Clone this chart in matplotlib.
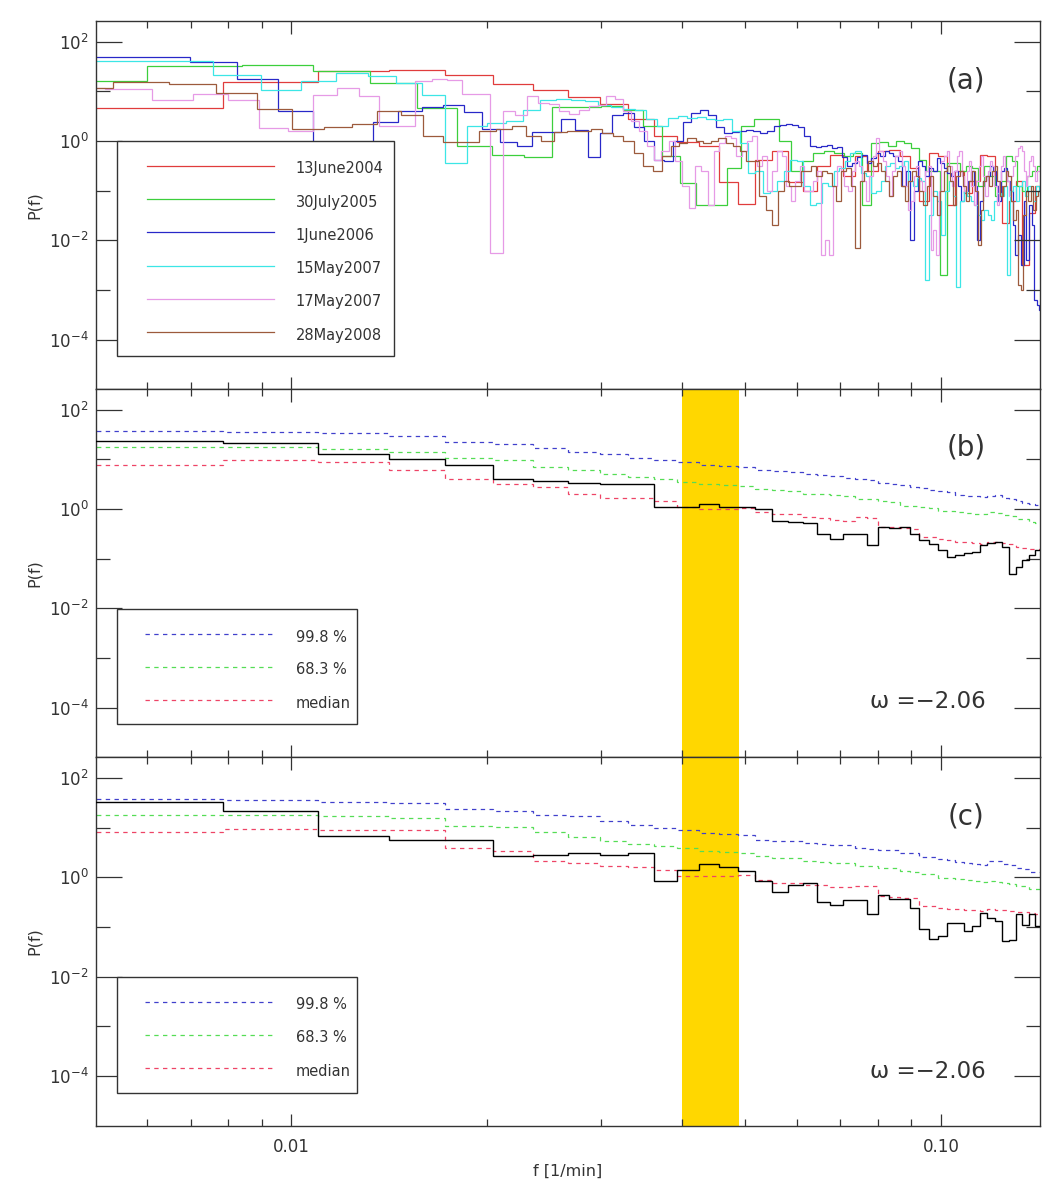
import numpy as np
import matplotlib.pyplot as plt
from matplotlib.lines import Line2D
from matplotlib.patches import Rectangle
from matplotlib.ticker import FixedLocator, NullFormatter, FuncFormatter

# ---- panel (a): log10 P(f) for each day, one value per frequency bin ----
# bin k covers (k-0.5)*df .. (k+0.5)*df
red_df, red_k0 = 0.00314, 2
red_logp = [0.66, 1.18, 1.40, 1.42, 1.33, 1.14, 1.03, 0.89, 0.75, 0.45, 0.10, -0.02, -0.10,
            -0.82, -1.27, -0.38, -0.21, -0.82, -1.00, -0.50, -0.28, -0.70, -0.30, -0.60, -0.20,
            -0.18, -0.30, -0.55, -1.20, -0.25, -0.30, -1.30, -0.60, -1.05, -0.80, -0.28, -0.30,
            -0.90, -1.65, -1.20, -0.80, -2.50, -1.45, -0.90]

green_df, green_k0 = 0.0024, 2
green_logp = [1.21, 1.50, 1.52, 1.40, 1.16, 0.66, -0.10, -0.28, -0.32, 0.68, 0.68, 0.70, 0.62,
              0.30, -0.30, -0.85, -1.30, -1.30, -0.55, 0.30, 0.44, 0.44, 0.00, -0.60, -0.40,
              -0.25, -0.20, -0.25, -0.30, -0.25, -1.30, -0.05, -0.02, -0.10, 0.00, -0.05, -0.15,
              -0.38, -0.60, -0.60, -2.70, -0.45, -0.45, -0.60, -0.50, -0.55, -0.90, -0.50, -0.70,
              -1.10, -0.80, -0.30, -0.40, -0.90, -1.00, -0.70, -0.60, -0.50]

blue_df, blue_k0 = 0.00127, 4
blue_logp = [1.69, 1.69, 1.59, 1.24, 0.61, -0.50, -0.70, 0.39, 0.61, 0.69, 0.72, 0.59, 0.25,
             -0.03, -0.11, 0.17, 0.17, 0.44, 0.22, -0.32, 0.15, 0.52, 0.57, 0.29, 0.00, -0.38,
             -0.40, 0.00, 0.39, 0.56, 0.62, 0.52, 0.29, 0.15, 0.18, 0.20, 0.22, 0.20, 0.15, 0.20,
             0.30, 0.32, 0.34, 0.33, 0.29, 0.10, -0.10, -0.12, -0.10, -0.08, -0.15, -0.12, -0.32,
             -0.50, -0.45, -0.32, -0.28, -0.45, -0.35, -0.25, -0.30, -0.20, -0.25, -0.30, -0.40,
             -0.90, -0.60, -2.00, -1.00, -0.40, -0.50, -0.70, -0.55, -0.60, -0.35, -0.45, -0.55,
             -0.65, -0.70, -0.60, -0.90, -1.20, -1.00, -0.80, -0.60, -0.90, -2.00, -1.20, -0.80,
             -0.70, -0.50, -0.60, -0.90, -1.20, -0.60, -0.55, -0.80, -1.00, -1.70, -2.30, -1.90,
             -2.50, -1.20, -2.40, -1.30, -1.70, -3.20, -3.30, -3.40]

cyan_df, cyan_k0 = 0.00138, 4
cyan_logp = [1.61, 1.61, 1.33, 1.03, 1.21, 1.37, 1.30, 1.16, 0.93, -0.44, 0.30, 0.36, 0.40, 0.62,
             0.82, 0.85, 0.83, 0.80, 0.72, 0.68, 0.65, 0.62, 0.45, 0.30, 0.46, 0.50, 0.46, 0.48,
             0.45, 0.43, 0.44, 0.20, -0.05, -0.65, -0.60, -1.05, -1.00, -0.80, -0.60, -0.38,
             -0.40, -0.90, -1.30, -1.25, -0.85, -0.90, -0.60, -0.55, -0.40, -0.25, -0.20, -0.65,
             -0.70, -1.05, -1.00, -0.80, -0.50, -0.45, -0.55, -0.50, -0.40, -0.80, -0.90, -0.75,
             -0.80, -2.80, -1.50, -1.00, -1.20, -1.90, -1.00, -0.80, -1.10, -2.95, -1.20, -1.00,
             -1.10, -1.20, -1.30, -1.50, -1.60, -1.40, -1.50, -1.60, -1.20, -1.05, -1.10, -0.90,
             -2.70, -1.00, -0.90, -1.20, -0.90, -0.80, -1.10, -0.90, -1.00, -1.20, -0.90, -1.00]

pink_df, pink_k0 = 0.00094, 5
pink_logp = [1.06, 1.04, 0.83, 0.94, 0.83, 0.27, 0.20, 0.93, 1.06, 0.90, 0.30, 0.30, 1.20, 1.25,
             1.22, 0.95, 0.95, -2.25, 0.60, 0.52, 0.90, 0.76, 0.75, 0.60, 0.55, 0.62, 0.70, 0.72,
             0.90, 0.85, 0.60, 0.40, 0.20, -0.10, -0.38, -0.20, 0.00, -0.40, -0.90, -1.35, -0.50,
             -0.60, -1.30, -0.20, -0.05, 0.10, 0.05, -0.30, -0.20, 0.00, 0.10, -0.50, -0.30,
             -1.00, -0.60, -0.20, -0.30, -0.90, -1.20, -0.80, -0.50, -1.00, -1.00, -0.80, -0.60,
             -2.30, -2.00, -2.30, -0.90, -0.50, -0.60, -0.90, -1.00, -0.60, -0.40, -0.50, -0.80,
             -1.20, -0.70, -0.30, 0.05, -0.20, -0.40, -0.70, -1.10, -0.60, -0.30, -0.20, -0.50,
             -0.90, -1.40, -1.20, -0.70, -0.50, -0.80, -1.00, -0.60, -0.50, -2.20, -1.80, -2.30,
             -1.00, -0.40, -0.30, -0.20, -0.50, -0.90, -0.60, -0.30, -0.20, -0.70, -1.00, -0.60,
             -0.40, -0.90, -1.30, -0.80, -0.50, -0.30, -0.70, -1.10, -0.60, -0.40, -0.50, -0.90,
             -1.30, -0.80, -0.50, -0.30, -0.60, -0.80, -1.10, -0.70, -0.50, -0.30, -0.15, -0.10,
             -0.20, -0.60, -0.90, -0.70, -0.40, -0.30, -0.50, -0.80, -0.60, -0.60]

brown_df, brown_k0 = 0.00118, 4
brown_logp = [1.06, 1.18, 1.15, 0.97, 0.64, 0.24, 0.28, 0.34, 0.60, 0.52, 0.10, -0.03, -0.03,
              0.20, 0.25, 0.30, 0.10, 0.00, 0.17, 0.20, 0.20, 0.25, 0.15, 0.10, 0.00, -0.25,
              -0.50, -0.60, -0.30, -0.10, -0.05, 0.05, 0.00, -0.05, 0.00, 0.05, -0.05, -0.10,
              -0.20, -0.40, -0.40, -1.10, -1.40, -1.70, -1.00, -0.80, -0.90, -0.90, -0.60, -0.60,
              -0.50, -0.70, -0.60, -0.65, -0.90, -1.20, -0.60, -0.55, -0.90, -2.15, -0.80, -0.60,
              -0.40, -0.50, -0.45, -0.60, -0.80, -1.10, -0.70, -0.60, -0.90, -1.20, -0.80, -0.60,
              -0.70, -1.00, -1.30, -0.90, -0.70, -1.10, -1.50, -1.00, -0.60, -0.50, -0.80, -1.30,
              -0.70, -0.60, -0.90, -1.20, -0.80, -0.60, -1.00, -2.10, -1.40, -0.80, -0.70, -0.90,
              -0.60, -0.50, -0.80, -1.10, -0.90, -0.60, -0.70, -1.20, -1.60, -1.40, -2.90, -3.00,
              -1.50, -1.00, -1.20, -0.90, -1.40, -1.10, -1.00]

days = ['13June2004', '30July2005', '1June2006', '15May2007', '17May2007', '28May2008']

# ---- panels (b) and (c): common grid, spectrum and confidence levels ----
avg_df, avg_k0 = 0.00314, 2
b_black = [1.37, 1.34, 1.12, 1.01, 0.89, 0.61, 0.57, 0.53, 0.51, 0.51, 0.04, 0.04, 0.11, 0.05,
           0.04, 0.00, -0.23, -0.26, -0.28, -0.50, -0.60, -0.51, -0.50, -0.73, -0.36, -0.38,
           -0.36, -0.50, -0.63, -0.70, -0.83, -0.97, -0.93, -0.89, -0.87, -0.73, -0.68, -0.66,
           -0.77, -1.30, -1.17, -1.03, -0.93, -0.83]
b_p998 = [1.58, 1.55, 1.53, 1.47, 1.36, 1.32, 1.23, 1.15, 1.10, 1.03, 0.99, 0.95, 0.88, 0.87,
          0.84, 0.78, 0.76, 0.75, 0.71, 0.69, 0.66, 0.63, 0.61, 0.58, 0.52, 0.51, 0.49, 0.44,
          0.42, 0.39, 0.36, 0.34, 0.29, 0.27, 0.26, 0.25, 0.26, 0.29, 0.23, 0.21, 0.16, 0.13,
          0.11, 0.09]
b_p683 = [1.25, 1.26, 1.21, 1.15, 1.03, 0.98, 0.85, 0.78, 0.70, 0.64, 0.61, 0.54, 0.50, 0.49,
          0.46, 0.41, 0.38, 0.37, 0.31, 0.30, 0.28, 0.27, 0.21, 0.20, 0.16, 0.15, 0.07, 0.06,
          0.04, 0.03, -0.03, -0.04, -0.06, -0.07, -0.09, -0.10, -0.06, -0.07, -0.12, -0.13,
          -0.19, -0.20, -0.26, -0.27]
b_median = [0.89, 0.98, 0.95, 0.78, 0.61, 0.50, 0.44, 0.31, 0.23, 0.22, 0.17, 0.04, 0.00, 0.01,
            0.02, -0.06, -0.09, -0.10, -0.16, -0.17, -0.22, -0.23, -0.16, -0.17, -0.36, -0.37,
            -0.39, -0.40, -0.56, -0.57, -0.61, -0.62, -0.66, -0.67, -0.69, -0.70, -0.66, -0.67,
            -0.69, -0.70, -0.77, -0.78, -0.80, -0.81]

c_black = [1.51, 1.33, 0.84, 0.76, 0.75, 0.42, 0.44, 0.48, 0.44, 0.49, -0.08, 0.14, 0.26, 0.21,
           0.12, -0.08, -0.30, -0.15, -0.11, -0.50, -0.55, -0.46, -0.46, -0.73, -0.35, -0.43,
           -0.43, -0.62, -1.05, -1.24, -1.19, -0.92, -0.92, -1.09, -0.99, -0.72, -0.82, -0.88,
           -1.29, -1.27, -0.73, -0.97, -0.73, -0.99]
c_p998 = [1.58, 1.55, 1.52, 1.50, 1.38, 1.33, 1.26, 1.23, 1.13, 1.06, 0.99, 0.96, 0.89, 0.88,
          0.86, 0.76, 0.74, 0.73, 0.69, 0.68, 0.66, 0.65, 0.59, 0.58, 0.56, 0.55, 0.49, 0.48,
          0.41, 0.40, 0.36, 0.35, 0.30, 0.29, 0.26, 0.25, 0.33, 0.32, 0.26, 0.25, 0.18, 0.17,
          0.11, 0.10]
c_p683 = [1.26, 1.26, 1.23, 1.19, 1.03, 1.02, 0.91, 0.81, 0.74, 0.68, 0.63, 0.59, 0.52, 0.51,
          0.49, 0.42, 0.39, 0.38, 0.32, 0.31, 0.29, 0.28, 0.23, 0.22, 0.19, 0.18, 0.12, 0.11,
          0.07, 0.06, -0.01, -0.02, -0.04, -0.05, -0.08, -0.09, -0.08, -0.09, -0.12, -0.13,
          -0.17, -0.18, -0.23, -0.24]
c_median = [0.91, 0.98, 0.95, 0.95, 0.59, 0.52, 0.32, 0.29, 0.22, 0.21, 0.15, 0.03, 0.03, 0.02,
            0.05, -0.06, -0.11, -0.12, -0.15, -0.16, -0.19, -0.20, -0.17, -0.18, -0.38, -0.39,
            -0.41, -0.42, -0.57, -0.58, -0.62, -0.63, -0.64, -0.65, -0.66, -0.67, -0.64, -0.65,
            -0.66, -0.67, -0.69, -0.70, -0.72, -0.73]

band = (0.040, 0.0488)   # shaded frequency range [1/min]
omega_text = '\u03c9 =\u22122.06'
conf_labels = ['99.8 %', '68.3 %', 'median']

W, H = 1047, 1194
ink = '#333333'
plt.rcParams['font.family'] = ['DejaVu Sans']
fig = plt.figure(figsize=(W / 100, H / 100), dpi=100)

day_colors = ['#e03c3c', '#3ccf3c', '#2828c8', '#3ce6e6', '#e69ae6', '#9c5a3c']
conf_colors = ['#4040cc', '#55dd55', '#ee4466']
dash = (0, (3.5, 3.5))


def edges(k0, n, df):
    k = k0 + np.arange(n + 1)
    return (k - 0.5) * df


def px(x, y):
    return x / W, 1 - y / H


left, right = 95.7, 1040.0
tops = [21.0, 389.2, 757.4]
ph = 368.2
axes = []
for t in tops:
    ax = fig.add_axes([left / W, 1 - (t + ph) / H, (right - left) / W, ph / H])
    axes.append(ax)

for ax in axes:
    ax.set_xscale('log')
    ax.set_yscale('log')
    ax.set_xlim(0.005, 0.142)
    ax.set_ylim(1e-5, 2.6e2)
    ax.xaxis.set_major_locator(FixedLocator([0.01, 0.1]))
    ax.xaxis.set_minor_locator(FixedLocator([0.006, 0.007, 0.008, 0.009, 0.02, 0.03, 0.04,
                                             0.05, 0.06, 0.07, 0.08, 0.09]))
    ax.xaxis.set_major_formatter(FuncFormatter(lambda v, p: '%.2f' % v))
    ax.xaxis.set_minor_formatter(NullFormatter())
    ax.yaxis.set_major_locator(FixedLocator([1e-4, 1e-2, 1.0, 1e2]))
    ax.yaxis.set_minor_locator(FixedLocator([1e-3, 1e-1, 1e1]))
    ax.yaxis.set_major_formatter(FuncFormatter(lambda v, p: r'$10^{%d}$' % round(np.log10(v))))
    ax.yaxis.set_minor_formatter(NullFormatter())
    ax.tick_params(which='both', direction='in', top=True, right=True, colors=ink,
                   labelsize=12, width=0.9)
    ax.tick_params(axis='y', which='major', length=19, pad=5)
    ax.tick_params(axis='y', which='minor', length=10)
    ax.tick_params(axis='x', which='major', length=9, pad=9)
    ax.tick_params(axis='x', which='minor', length=5)
    for s in ax.spines.values():
        s.set_color(ink)
        s.set_linewidth(1.0)
    ax.set_ylabel('P(f)', fontsize=11.5, color=ink)
    ax.yaxis.set_label_coords(-0.057, 0.5)

axes[0].tick_params(labelbottom=False)
axes[1].tick_params(labelbottom=False)
axes[2].set_xlabel('f [1/min]', fontsize=11.5, color=ink)
axes[2].xaxis.set_label_coords(0.5, -0.104)

# panel (a)
series = [(red_logp, red_df, red_k0), (green_logp, green_df, green_k0),
          (blue_logp, blue_df, blue_k0), (cyan_logp, cyan_df, cyan_k0),
          (pink_logp, pink_df, pink_k0), (brown_logp, brown_df, brown_k0)]
ax = axes[0]
for (vals, df, k0), col in zip(series, day_colors):
    ax.stairs(10 ** np.array(vals), edges(k0, len(vals), df), baseline=None,
              color=col, lw=0.9)

# panels (b), (c)
for ax, blk, lvls in [(axes[1], b_black, [b_p998, b_p683, b_median]),
                      (axes[2], c_black, [c_p998, c_p683, c_median])]:
    ax.axvspan(band[0], band[1], color='#ffd700', lw=0, zorder=0)
    e = edges(avg_k0, len(blk), avg_df)
    for vals, col in zip(lvls, conf_colors):
        ax.stairs(10 ** np.array(vals), e, baseline=None, color=col, lw=0.9,
                  linestyle=dash, zorder=2)
    ax.stairs(10 ** np.array(blk), e, baseline=None, color='black', lw=1.0, zorder=3)

for lab, y in [('(a)', 81), ('(b)', 448), ('(c)', 817)]:
    fig.text(*px(966, y), lab, fontsize=20, color=ink, ha='center', va='center')
for y in [701.7, 1071.7]:
    fig.text(*px(928, y), omega_text, fontsize=16.5, color=ink, ha='center', va='center')


# legends drawn as boxes over the axes
def legend_box(x0, y0, x1, y1):
    fig.add_artist(Rectangle(px(x0, y1), (x1 - x0) / W, (y1 - y0) / H,
                             transform=fig.transFigure, facecolor='white',
                             edgecolor=ink, lw=1.0, zorder=5))


legend_box(116.7, 140.7, 394.0, 356.0)
for i, (name, col) in enumerate(zip(days, day_colors)):
    y = 165.7 + i * 33.3
    fig.add_artist(Line2D([147 / W, 274 / W], [1 - y / H] * 2, transform=fig.transFigure,
                          color=col, lw=0.9, zorder=6))
    fig.text(*px(295.7, y + 3), name, fontsize=10.5, color=ink, va='center', zorder=6)

for yb0, yb1, rows in [(608.7, 724.0, [634.0, 666.7, 700.0]),
                       (976.7, 1092.7, [1001.7, 1035.0, 1068.3])]:
    legend_box(116.7, yb0, 357.3, yb1)
    for name, col, y in zip(conf_labels, conf_colors, rows):
        fig.add_artist(Line2D([145 / W, 273 / W], [1 - y / H] * 2, transform=fig.transFigure,
                              color=col, lw=0.9, linestyle=dash, zorder=6))
        fig.text(*px(295.7, y + 3), name, fontsize=10.5, color=ink, va='center', zorder=6)

fig.savefig('out.png', dpi=100)
